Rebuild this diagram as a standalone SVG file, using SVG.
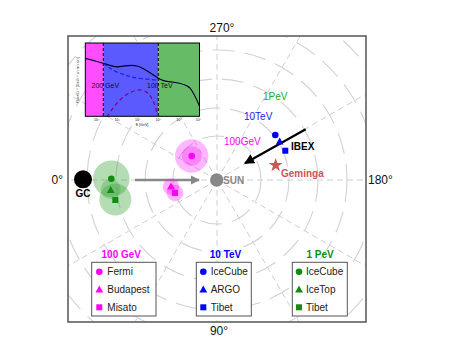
<svg xmlns="http://www.w3.org/2000/svg" width="457" height="359" viewBox="0 0 457 359">
<style>
text{font-family:"Liberation Sans",Arial,sans-serif;}
.ax{font-size:12px;fill:#111;}
.lg{font-size:10px;fill:#222;}
.ttl{font-size:10px;font-weight:bold;text-anchor:middle;}
.spoke{stroke:#cfcfcf;stroke-width:1;stroke-dasharray:6 4;fill:none;}
.ring{stroke:#d2d2d2;stroke-width:1.1;stroke-dasharray:22 10;fill:none;}
.box{fill:#fff;stroke:#555;stroke-width:1;}
.tk{font-size:3.6px;fill:#222;text-anchor:middle;}
.mag{fill:#ff00ff;}
.blu{fill:#0000ff;}
.grn{fill:#118c11;}
</style>
<defs>
<clipPath id="fr"><rect x="68" y="36" width="298" height="286"/></clipPath>
<clipPath id="ins"><rect x="85.3" y="43" width="114.2" height="73.3"/></clipPath>
<marker id="ag" viewBox="0 0 10 10" refX="9" refY="5" markerWidth="3.6" markerHeight="3.6" orient="auto"><path d="M0,0 L10,5 L0,10 z" fill="#888"/></marker>
<marker id="ak" viewBox="0 0 10 10" refX="9" refY="5" markerWidth="4.4" markerHeight="4.4" orient="auto"><path d="M0,0 L10,5 L0,10 z" fill="#000"/></marker>
</defs>
<rect width="457" height="359" fill="#fff"/>
<g id="grid" clip-path="url(#fr)">
<g transform="translate(217,180)">
<line class="spoke" x1="0" y1="0" x2="400" y2="0"/>
<line class="spoke" x1="0" y1="0" x2="-400" y2="0"/>
<line class="spoke" x1="0" y1="0" x2="0" y2="400"/>
<line class="spoke" x1="0" y1="0" x2="0" y2="-400"/>
<line class="spoke" x1="0" y1="0" x2="346" y2="200"/>
<line class="spoke" x1="0" y1="0" x2="346" y2="-200"/>
<line class="spoke" x1="0" y1="0" x2="-346" y2="200"/>
<line class="spoke" x1="0" y1="0" x2="-346" y2="-200"/>
<line class="spoke" x1="0" y1="0" x2="200" y2="346"/>
<line class="spoke" x1="0" y1="0" x2="200" y2="-346"/>
<line class="spoke" x1="0" y1="0" x2="-200" y2="346"/>
<line class="spoke" x1="0" y1="0" x2="-200" y2="-346"/>
<circle class="ring" r="44"/>
<circle class="ring" r="72"/>
<circle class="ring" r="101"/>
<circle class="ring" r="130"/>
<circle class="ring" r="159"/>
<circle class="ring" r="188"/>
</g>
</g>
<rect id="frame" x="68" y="36" width="298" height="286" fill="none" stroke="#555" stroke-width="1.5"/>
<g id="axis-labels">
<text class="ax" x="222" y="32" text-anchor="middle">270°</text>
<text class="ax" x="63" y="184" text-anchor="end">0°</text>
<text class="ax" x="368" y="184">180°</text>
<text class="ax" x="219" y="335" text-anchor="middle">90°</text>
</g>
<g id="inset">
<rect x="85.3" y="43" width="18" height="73.3" fill="#ff4dff"/>
<rect x="103.3" y="43" width="55" height="73.3" fill="#5a5aff"/>
<rect x="158.3" y="43" width="41.2" height="73.3" fill="#66bb66"/>
<g clip-path="url(#ins)" fill="none">
<path d="M85,58.3 C93,60 98,62 103.3,63.3 C110,65 112,67 118,66.8 C126,66.5 130,64 137,66 C144,68 150,73 158.3,78.3 C163,81.5 166,81.5 172,82 C180,83 186,84 190,88 C194,93 197,100 200,107.5" stroke="#00002a" stroke-width="1.2"/>
<path d="M103.3,63.3 C108,67 112,70 118,72.5 C126,75.5 132,77.5 140,78.5 C148,79.3 153,79.8 158.3,80" stroke="#1a1aff" stroke-width="1.2" stroke-dasharray="4 2.5"/>
<path d="M107,117 C115,104 125,92 138,90 C149,89 154,100 157,113" stroke="#800080" stroke-width="1.2" stroke-dasharray="4 3"/>
</g>
<line x1="103.3" y1="43" x2="103.3" y2="116.3" stroke="#000" stroke-width="1" stroke-dasharray="3 2"/>
<line x1="158.3" y1="43" x2="158.3" y2="116.3" stroke="#000" stroke-width="1" stroke-dasharray="3 2"/>
<rect x="85.3" y="43" width="114.2" height="73.3" fill="none" stroke="#000" stroke-width="1"/>
<text x="91.5" y="88" font-size="7" fill="#111">200 GeV</text>
<text x="147" y="88" font-size="7" fill="#111">100 TeV</text>
<text class="tk" x="96.5" y="121">10²</text>
<text class="tk" x="117.1" y="121">10³</text>
<text class="tk" x="137.7" y="121">10⁴</text>
<text class="tk" x="158.3" y="121">10⁵</text>
<text class="tk" x="178.9" y="121">10⁶</text>
<text class="tk" x="198.5" y="121">10⁷</text>
<text class="tk" x="142" y="125.5">E [GeV]</text>
<text class="tk" transform="translate(79,80) rotate(-90)">Flux×E²·⁶ [GeV¹·⁶ s⁻¹ m⁻² sr⁻¹]</text>
</g>
<g id="connectors">
<line x1="135" y1="180" x2="199" y2="180" stroke="#888" stroke-width="2.6" marker-end="url(#ag)"/>
<line x1="305.7" y1="129.3" x2="245" y2="163.2" stroke="#000" stroke-width="2.3" marker-end="url(#ak)"/>
</g>
<g id="pev-sources">
<circle cx="111.3" cy="178.7" r="18.3" fill="#44aa44" opacity="0.4"/>
<circle cx="115.3" cy="199.5" r="16" fill="#44aa44" opacity="0.4"/>
<circle cx="110.7" cy="189.3" r="10" fill="#44aa44" opacity="0.35"/>
<circle class="grn" cx="111.3" cy="178.7" r="3.3"/>
<path class="grn" d="M110.7,186 L114.6,193 L106.8,193 z"/>
<rect class="grn" x="112.3" y="197" width="6" height="6"/>
</g>
<g id="gev-sources">
<circle cx="191.7" cy="156" r="16.7" fill="#ff00ff" opacity="0.28"/>
<circle cx="191.7" cy="156" r="10" fill="#ff00ff" opacity="0.28"/>
<circle class="mag" cx="191.7" cy="156" r="3.3"/>
<circle cx="171" cy="186.7" r="8.3" fill="#ff00ff" opacity="0.3"/>
<circle cx="175" cy="193" r="8.3" fill="#ff00ff" opacity="0.3"/>
<path class="mag" d="M171,182.5 L175,189.5 L167,189.5 z"/>
<rect class="mag" x="172" y="190" width="6" height="6"/>
</g>
<g id="gc">
<circle cx="83" cy="179.3" r="9" fill="#000"/>
<text x="83" y="197" font-size="10" font-weight="bold" text-anchor="middle" fill="#000">GC</text>
</g>
<g id="sun">
<circle cx="216.7" cy="180" r="6.7" fill="#888"/>
<text x="223" y="184" font-size="10" font-weight="bold" fill="#888">SUN</text>
</g>
<g id="tev-sources">
<circle class="blu" cx="275.3" cy="135" r="3.3"/>
<path class="blu" d="M279.7,137.5 L283.6,144.5 L275.8,144.5 z"/>
<rect class="blu" x="282.3" y="147.7" width="6" height="6"/>
</g>
<g id="ibex">
<text x="291" y="150" font-size="10" font-weight="bold" fill="#000">IBEX</text>
</g>
<g id="geminga">
<path d="M275.7,158 L277.4,163 L282.6,163 L278.4,166.1 L280,171.2 L275.7,168 L271.4,171.2 L273,166.1 L268.8,163 L274,163 z" fill="#cc5555"/>
<text x="281" y="177" font-size="10" font-weight="bold" fill="#cc5555">Geminga</text>
</g>
<g id="energy-labels">
<text x="263" y="100" font-size="10" fill="#22aa22">1PeV</text>
<text x="244" y="120" font-size="10" fill="#2222ee">10TeV</text>
<text x="224" y="145" font-size="10" fill="#ff00ff">100GeV</text>
</g>
<g id="legend-100gev">
<text class="ttl" x="121.3" y="258" fill="#ff00ff">100 GeV</text>
<rect class="box" x="91.7" y="262.3" width="64.3" height="53.7"/>
<circle class="mag" cx="99.3" cy="271.7" r="3.3"/>
<text class="lg" x="107.3" y="275.2">Fermi</text>
<path class="mag" d="M99.3,285.5 L103.2,292.5 L95.4,292.5 z"/>
<text class="lg" x="107.3" y="292.8">Budapest</text>
<rect class="mag" x="96.3" y="304.3" width="6" height="6"/>
<text class="lg" x="107.3" y="310.8">Misato</text>
</g>
<g id="legend-10tev">
<text class="ttl" x="225.5" y="258" fill="#0000ff">10 TeV</text>
<rect class="box" x="196.3" y="262.3" width="55" height="53.7"/>
<circle class="blu" cx="203.3" cy="271.7" r="3.3"/>
<text class="lg" x="210.7" y="275.2">IceCube</text>
<path class="blu" d="M203.3,285.5 L207.2,292.5 L199.4,292.5 z"/>
<text class="lg" x="210.7" y="292.8">ARGO</text>
<rect class="blu" x="200.3" y="304.3" width="6" height="6"/>
<text class="lg" x="210.7" y="310.8">Tibet</text>
</g>
<g id="legend-1pev">
<text class="ttl" x="320" y="258" fill="#118c11">1 PeV</text>
<rect class="box" x="292.3" y="262.3" width="55" height="53.7"/>
<circle class="grn" cx="299" cy="271.7" r="3.3"/>
<text class="lg" x="306" y="275.2">IceCube</text>
<path class="grn" d="M299,285.5 L302.9,292.5 L295.1,292.5 z"/>
<text class="lg" x="306" y="292.8">IceTop</text>
<rect class="grn" x="296" y="304.3" width="6" height="6"/>
<text class="lg" x="306" y="310.8">Tibet</text>
</g>
</svg>
